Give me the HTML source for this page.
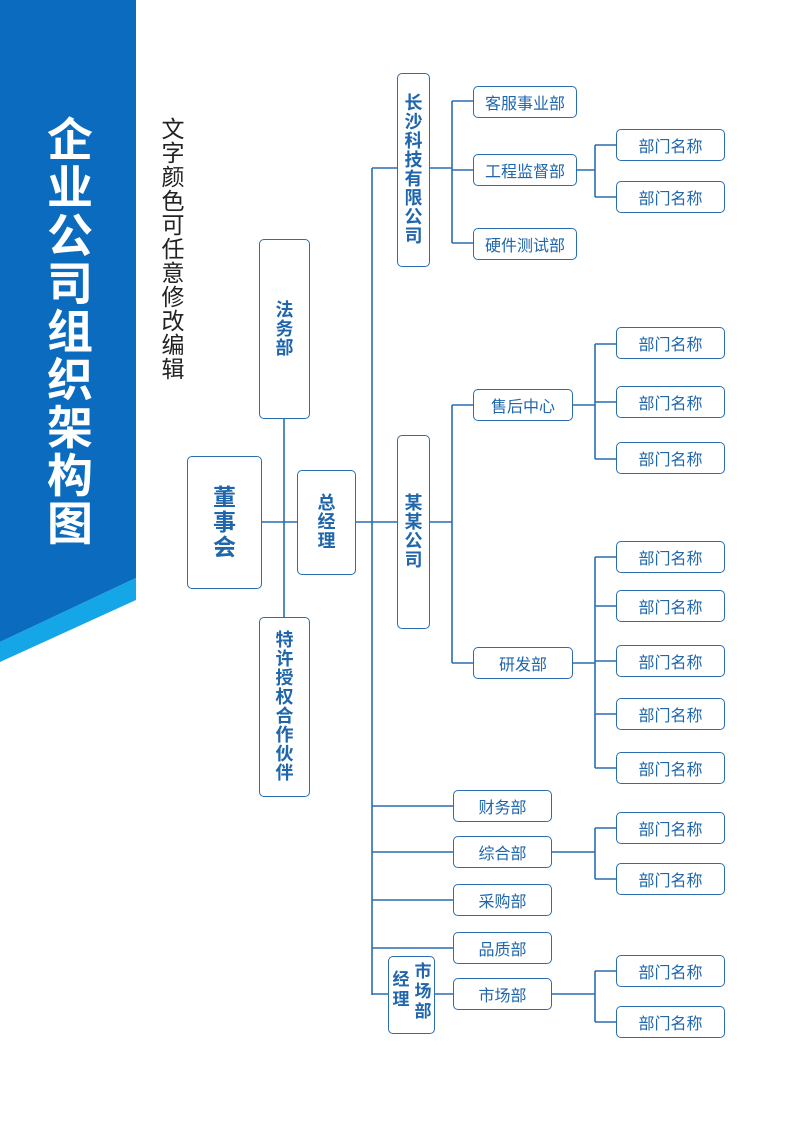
<!DOCTYPE html><html><head><meta charset="utf-8"><style>
body{margin:0;width:800px;height:1131px;position:relative;background:#fff;overflow:hidden;font-family:"Liberation Sans","Noto Sans CJK SC",sans-serif}
.b{position:absolute;border:1.6px solid #2a6eb0;border-radius:5px;box-sizing:border-box;display:flex;align-items:center;justify-content:center;color:#1f66ad;font-size:16px;background:#fff}
.v{flex-direction:column;font-weight:bold;font-size:18px}
.v span{display:block;height:19px;line-height:19px}
.col{position:absolute;display:flex;flex-direction:column;align-items:center}
.col span{display:block}
</style></head><body>
<svg width="800" height="1131" style="position:absolute;left:0;top:0">
<polygon points="0,0 136,0 136,578 0,642" fill="#0b6cbf"/>
<polygon points="136,578 136,600 0,662 0,642" fill="#15a6e8"/>
<g stroke="#2a6eb0" stroke-width="1.6" fill="none">
<path d="M284 419V617M262 522H297M356 522H372M372 168V995M372 168H397M372 522H397M430 168H452M452 101V243M452 101H473M452 170H473M452 243H473M577 170H595M595 145V197M595 145H616M595 197H616M430 522H452M452 405V663M452 405H473M452 663H473M573 405H595M595 344V459M595 344H616M595 402H616M595 459H616M573 663H595M595 557V768M595 557H616M595 606H616M595 661H616M595 714H616M595 768H616M372 806H453M372 852H453M372 900H453M372 948H453M372 994H453M552 852H595M595 828V879M595 828H616M595 879H616M552 994H595M595 971V1022M595 971H616M595 1022H616"/>
</g></svg>
<div class="col" style="left:40px;top:116px;width:60px;color:#fff;font-size:46px;font-weight:bold;line-height:48px"><span>企</span><span>业</span><span>公</span><span>司</span><span>组</span><span>织</span><span>架</span><span>构</span><span>图</span></div>
<div class="col" style="left:158px;top:117px;width:30px;color:#222;font-size:23px;line-height:24px"><span>文</span><span>字</span><span>颜</span><span>色</span><span>可</span><span>任</span><span>意</span><span>修</span><span>改</span><span>编</span><span>辑</span></div>
<div class="b v" style="left:259px;top:239px;width:51px;height:180px"><span>法</span><span>务</span><span>部</span></div>
<div class="b v" style="left:187px;top:456px;width:75px;height:133px;font-size:23px"><span style="height:25px;line-height:25px">董</span><span style="height:25px;line-height:25px">事</span><span style="height:25px;line-height:25px">会</span></div>
<div class="b v" style="left:297px;top:470px;width:59px;height:105px"><span>总</span><span>经</span><span>理</span></div>
<div class="b v" style="left:259px;top:617px;width:51px;height:180px"><span>特</span><span>许</span><span>授</span><span>权</span><span>合</span><span>作</span><span>伙</span><span>伴</span></div>
<div class="b v" style="left:397px;top:73px;width:33px;height:194px"><span>长</span><span>沙</span><span>科</span><span>技</span><span>有</span><span>限</span><span>公</span><span>司</span></div>
<div class="b v" style="left:397px;top:435px;width:33px;height:194px"><span>某</span><span>某</span><span>公</span><span>司</span></div>
<div class="b" style="left:473px;top:86px;width:104px;height:32px">客服事业部</div>
<div class="b" style="left:473px;top:154px;width:104px;height:32px">工程监督部</div>
<div class="b" style="left:473px;top:228px;width:104px;height:32px">硬件测试部</div>
<div class="b" style="left:473px;top:389px;width:100px;height:32px">售后中心</div>
<div class="b" style="left:473px;top:647px;width:100px;height:32px">研发部</div>
<div class="b" style="left:453px;top:790px;width:99px;height:32px">财务部</div>
<div class="b" style="left:453px;top:836px;width:99px;height:32px">综合部</div>
<div class="b" style="left:453px;top:884px;width:99px;height:32px">采购部</div>
<div class="b" style="left:453px;top:932px;width:99px;height:32px">品质部</div>
<div class="b" style="left:453px;top:978px;width:99px;height:32px">市场部</div>
<div class="b" style="left:388px;top:956px;width:47px;height:78px"></div>
<div class="col" style="left:412px;top:962px;width:22px;color:#1f66ad;font-size:17px;font-weight:bold;line-height:20px"><span>市</span><span>场</span><span>部</span></div>
<div class="col" style="left:390px;top:970px;width:22px;color:#1f66ad;font-size:17px;font-weight:bold;line-height:20px"><span>经</span><span>理</span></div>
<div class="b" style="left:616px;top:129px;width:109px;height:32px">部门名称</div>
<div class="b" style="left:616px;top:181px;width:109px;height:32px">部门名称</div>
<div class="b" style="left:616px;top:327px;width:109px;height:32px">部门名称</div>
<div class="b" style="left:616px;top:386px;width:109px;height:32px">部门名称</div>
<div class="b" style="left:616px;top:442px;width:109px;height:32px">部门名称</div>
<div class="b" style="left:616px;top:541px;width:109px;height:32px">部门名称</div>
<div class="b" style="left:616px;top:590px;width:109px;height:32px">部门名称</div>
<div class="b" style="left:616px;top:645px;width:109px;height:32px">部门名称</div>
<div class="b" style="left:616px;top:698px;width:109px;height:32px">部门名称</div>
<div class="b" style="left:616px;top:752px;width:109px;height:32px">部门名称</div>
<div class="b" style="left:616px;top:812px;width:109px;height:32px">部门名称</div>
<div class="b" style="left:616px;top:863px;width:109px;height:32px">部门名称</div>
<div class="b" style="left:616px;top:955px;width:109px;height:32px">部门名称</div>
<div class="b" style="left:616px;top:1006px;width:109px;height:32px">部门名称</div>
</body></html>
